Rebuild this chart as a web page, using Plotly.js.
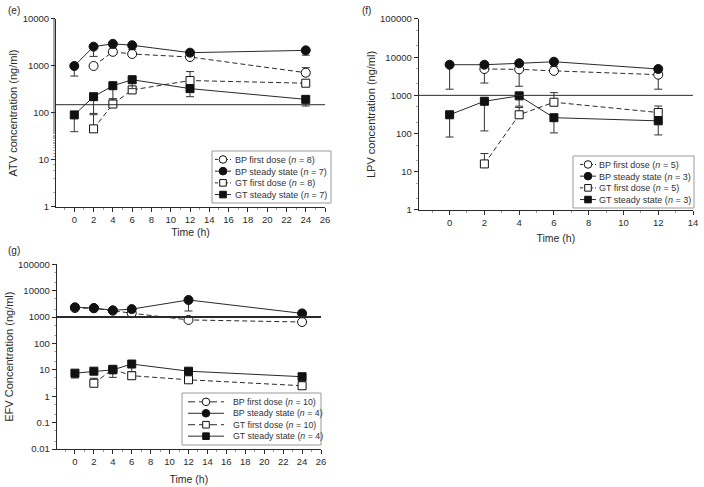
<!DOCTYPE html>
<html>
<head>
<meta charset="utf-8">
<script src="https://cdn.plot.ly/plotly-3.0.1.min.js"></script>
<style>
  body { margin: 0; background: #fff; }
  #myDiv { width: 704px; height: 487px; }
</style>
</head>
<body>
<div id="myDiv"></div>
<script>
// Panel (e) ATV
var timesE = [0, 2, 4, 6, 12, 24];
var bpFirstE = [null, 1000, 2000, 1800, 1550, 720];
var bpFirstUpE = [null, null, null, null, 150, 200];
var bpFirstDownE = [null, null, null, null, 0, 100];
var bpSteadyE = [1000, 2580, 2960, 2760, 1920, 2150];
var bpSteadyDownE = [390, 980, 560, 510, null, 450];
var gtFirstE = [null, 46, 155, 310, 490, 430];
var gtFirstUpE = [null, 46, 45, null, 270, null];
var gtSteadyE = [91, 222, 380, 510, 330, 195];
var gtSteadyDownE = [51, 124, 180, 180, 108, 54];
var limitE = 150;
var nE = [8, 7, 8, 7];
var yTicksE = [1, 10, 100, 1000, 10000];

// Panel (f) LPV
var timesF = [0, 2, 4, 6, 12];
var bpFirstF = [null, 4900, 4800, 4380, 3480];
var bpFirstDownF = [null, 2800, 3070, null, 2030];
var bpSteadyF = [6340, 6340, 6900, 7600, 4900];
var bpSteadyDownF = [4890, null, null, 1850, null];
var gtFirstF = [null, 16, 310, 660, 355];
var gtFirstUpF = [null, 14, 170, 520, 170];
var gtSteadyF = [310, 700, 970, 260, 215];
var gtSteadyDownF = [229, 583, 450, 156, 123];
var limitF = 1000;
var nF = [5, 3, 5, 3];
var yTicksF = [1, 10, 100, 1000, 10000, 100000];

// Panel (g) EFV
var timesG = [0, 2, 4, 6, 12, 24];
var bpFirstG = [2200, 2150, 1750, 1400, 780, 650];
var bpSteadyG = [2350, 2200, 1800, 2000, 4450, 1380];
var bpSteadyDownG = [600, 450, null, 200, 2750, 300];
var gtFirstG = [null, 3.1, 10.5, 6.0, 4.2, 2.5];
var gtFirstUpG = [null, 1.7, 2.5, null, 1.5, 1.0];
var gtSteadyG = [7.5, 8.9, 10, 16.6, 8.9, 5.5];
var gtSteadyDownG = [2.6, null, 4.8, 8, null, null];
var limitG = 1000;
var nG = [10, 4, 10, 4];
var yTicksG = [0.01, 0.1, 1, 10, 100, 1000, 10000, 100000];

var seriesNames = ['BP first dose', 'BP steady state', 'GT first dose', 'GT steady state'];
var seriesKinds = ['bpFirst', 'bpSteady', 'gtFirst', 'gtSteady'];

var FONT = 'Liberation Sans, Arial, sans-serif';
var INK = '#2a2a2a';
var W = 704, H = 487;

//////////////////////
// TRAZAS           //
//////////////////////

// estilos de las cuatro series
var estilos = {
    bpFirst: { symbol: 'circle', fill: '#fff', dash: '5px,3px', size: 9 },
    bpSteady: { symbol: 'circle', fill: '#111', dash: 'solid', size: 9 },
    gtFirst: { symbol: 'square', fill: '#fff', dash: '5px,3px', size: 8 },
    gtSteady: { symbol: 'square', fill: '#111', dash: 'solid', size: 8 }
};

function serie(x, y, up, down, tipo, xa, ya) {
    var e = estilos[tipo];
    var t = {
        x: x,
        y: y,
        xaxis: xa,
        yaxis: ya,
        type: 'scatter',
        mode: 'lines+markers',
        line: { color: INK, width: 1, dash: e.dash },
        marker: { symbol: e.symbol, size: e.size, color: e.fill, line: { color: '#111', width: 1 } },
        showlegend: false,
        hoverinfo: 'skip'
    };
    if (up || down) {
        var a = [], am = [];
        for (var i = 0; i < y.length; i++) {
            var u = up ? up[i] : null;
            var d = down ? down[i] : null;
            if (u == null && d == null) {
                a.push(null); am.push(null);
            } else {
                a.push(u == null ? 0 : u); am.push(d == null ? 0 : d);
            }
        }
        t.error_y = {
            type: 'data', symmetric: false, array: a, arrayminus: am,
            color: '#333', thickness: 1, width: 4
        };
    }
    return t;
}

var data = [
    serie(timesE, bpFirstE, bpFirstUpE, bpFirstDownE, 'bpFirst', 'x', 'y'),
    serie(timesE, gtFirstE, gtFirstUpE, null, 'gtFirst', 'x', 'y'),
    serie(timesE, bpSteadyE, null, bpSteadyDownE, 'bpSteady', 'x', 'y'),
    serie(timesE, gtSteadyE, null, gtSteadyDownE, 'gtSteady', 'x', 'y'),

    serie(timesF, bpFirstF, null, bpFirstDownF, 'bpFirst', 'x2', 'y2'),
    serie(timesF, gtFirstF, gtFirstUpF, null, 'gtFirst', 'x2', 'y2'),
    serie(timesF, bpSteadyF, null, bpSteadyDownF, 'bpSteady', 'x2', 'y2'),
    serie(timesF, gtSteadyF, null, gtSteadyDownF, 'gtSteady', 'x2', 'y2'),

    serie(timesG, bpFirstG, null, null, 'bpFirst', 'x3', 'y3'),
    serie(timesG, gtFirstG, gtFirstUpG, null, 'gtFirst', 'x3', 'y3'),
    serie(timesG, bpSteadyG, null, bpSteadyDownG, 'bpSteady', 'x3', 'y3'),
    serie(timesG, gtSteadyG, null, gtSteadyDownG, 'gtSteady', 'x3', 'y3')
];

//////////////////////
// EJES             //
//////////////////////

function ejeX(dom, rango, anchor, separacion) {
    return {
        domain: dom, range: rango, anchor: anchor,
        tick0: 0, dtick: 2,
        showline: true, linecolor: INK, linewidth: 1,
        ticks: 'outside', ticklen: 4, tickcolor: INK,
        minor: { ticks: 'outside', ticklen: 2, dtick: 1, tickcolor: '#999' },
        showgrid: false, zeroline: false,
        tickfont: { family: FONT, size: 9.5, color: INK },
        title: { text: 'Time (h)', font: { family: FONT, size: 10.5, color: INK }, standoff: separacion },
        automargin: false
    };
}

function ejeY(dom, rango, anchor, titulo, ticks) {
    return {
        domain: dom, type: 'log', range: rango, anchor: anchor,
        tickmode: 'array', tickvals: ticks, ticktext: ticks.map(String),
        showline: true, linecolor: INK, linewidth: 1,
        ticks: 'outside', ticklen: 4, tickcolor: INK,
        minor: { ticks: 'outside', ticklen: 2, tickcolor: '#aaa' },
        showgrid: false, zeroline: false,
        tickfont: { family: FONT, size: 9.5, color: INK },
        title: { text: titulo, font: { family: FONT, size: 11, color: INK }, standoff: 2 },
        automargin: false
    };
}

//////////////////////
// LEYENDAS         //
//////////////////////

function px(x) { return x / W; }
function py(y) { return 1 - y / H; }

// caja, muestras (linea + marcador) y un bloque de texto de 4 lineas
function leyenda(caja, symX, mitad, textX, n, tam, guion) {
    var paso = tam * 1.3;
    var centro = (caja[1] + caja[3]) / 2;
    var shapes = [{
        type: 'rect', xref: 'paper', yref: 'paper',
        x0: px(caja[0]), x1: px(caja[2]), y0: py(caja[1]), y1: py(caja[3]),
        line: { color: '#999', width: 1 }, fillcolor: '#fff', layer: 'above'
    }];
    for (var k = 0; k < 4; k++) {
        var e = estilos[seriesKinds[k]];
        var yy = centro + (k - 1.5) * paso;
        shapes.push({
            type: 'line', xref: 'paper', yref: 'paper', layer: 'above',
            x0: px(symX - mitad), x1: px(symX + mitad), y0: py(yy), y1: py(yy),
            line: { color: INK, width: 1, dash: e.dash == 'solid' ? 'solid' : guion }
        });
        var r = e.symbol == 'circle' ? 3.8 : 3.3;
        shapes.push({
            type: e.symbol == 'circle' ? 'circle' : 'rect', xref: 'paper', yref: 'paper', layer: 'above',
            x0: px(symX - r), x1: px(symX + r), y0: py(yy + r), y1: py(yy - r),
            line: { color: '#111', width: 1 }, fillcolor: e.fill
        });
    }
    var lineas = [];
    for (var j = 0; j < 4; j++) {
        lineas.push(seriesNames[j] + ' (<i>n</i> = ' + n[j] + ')');
    }
    var ann = {
        xref: 'paper', yref: 'paper', x: px(textX), y: py(centro),
        xanchor: 'left', yanchor: 'middle', align: 'left', showarrow: false, borderpad: 0,
        text: lineas.join('<br>'), font: { family: FONT, size: tam, color: '#333' }
    };
    return { shapes: shapes, ann: ann };
}

var legE = leyenda([212, 151, 331, 203], 223, 8, 234, nE, 9, '3px,2px');
var legF = leyenda([573, 156, 694, 208], 588, 8, 598, nF, 9, '3px,2px');
var legG = leyenda([182, 393, 321, 445], 206, 18, 232, nG, 8.8, '7px,4px');

function etiqueta(x, y, txt) {
    return {
        xref: 'paper', yref: 'paper', x: px(x), y: py(y),
        xanchor: 'left', yanchor: 'top', showarrow: false,
        text: txt, font: { family: FONT, size: 10, color: INK }
    };
}

function limite(valor, xa, ya, grosor) {
    return {
        type: 'line', xref: xa + ' domain', yref: ya, x0: 0, x1: 1, y0: valor, y1: valor,
        line: { color: INK, width: grosor }
    };
}

var layout = {
    width: W,
    height: H,
    margin: { l: 0, r: 0, t: 0, b: 0 },
    paper_bgcolor: '#fff',
    plot_bgcolor: '#fff',
    showlegend: false,
    xaxis: ejeX([0.0795, 0.4617], [-1.9, 26], 'y', 4),
    yaxis: ejeY([0.575, 0.961], [0, 4], 'x', 'ATV concentration (ng/ml)', yTicksE),
    xaxis2: ejeX([0.5947, 0.9844], [-1.78, 14], 'y2', 7),
    yaxis2: ejeY([0.569, 0.961], [0, 5], 'x2', 'LPV concentration (ng/ml)', yTicksF),
    xaxis3: ejeX([0.0805, 0.456], [-1.93, 26], 'y3', 9),
    yaxis3: ejeY([0.078, 0.4573], [-2, 5], 'x3', 'EFV Concentration (ng/ml)', yTicksG),
    shapes: [
        limite(limitE, 'x', 'y', 1),
        limite(limitF, 'x2', 'y2', 1),
        limite(limitG, 'x3', 'y3', 2)
    ].concat(legE.shapes, legF.shapes, legG.shapes),
    annotations: [
        etiqueta(6, 3, '(e)'),
        etiqueta(360, 3, '(f)'),
        etiqueta(6, 243, '(g)'),
        legE.ann, legF.ann, legG.ann
    ]
};

var config = { staticPlot: true, responsive: false };

Plotly.newPlot('myDiv', data, layout, config);
</script>
</body>
</html>
